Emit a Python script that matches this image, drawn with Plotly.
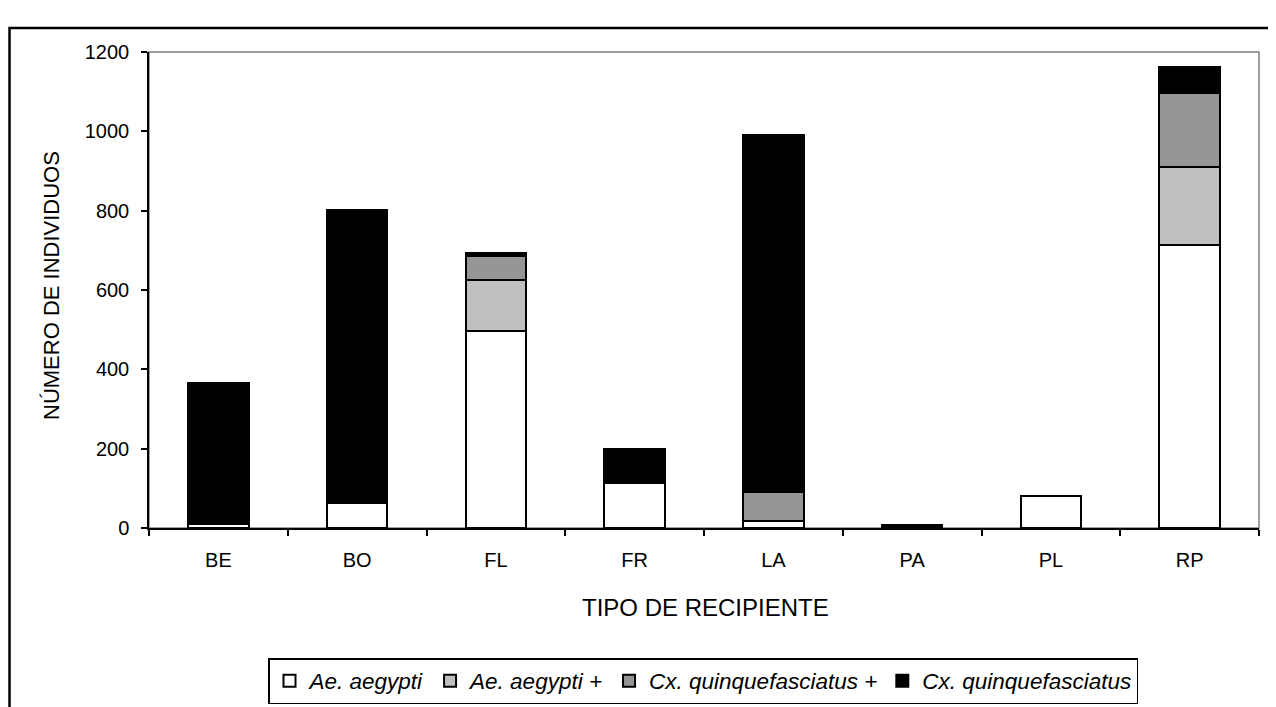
import plotly.graph_objects as go

categories = ["BE", "BO", "FL", "FR", "LA", "PA", "PL", "RP"]
ae_aegypti = [10, 64, 497, 113, 18, 0, 81, 713]
ae_aegypti_plus = [0, 0, 128, 4, 0, 0, 0, 196]
cx_quinq_plus = [0, 0, 61, 4, 74, 0, 0, 188]
cx_quinq = [356, 738, 8, 77, 900, 7, 0, 64]

series_names = ["Ae. aegypti", "Ae. aegypti +", "Cx. quinquefasciatus +", "Cx. quinquefasciatus"]
series_values = [ae_aegypti, ae_aegypti_plus, cx_quinq_plus, cx_quinq]
series_colors = ["#FFFFFF", "#C0C0C0", "#969696", "#000000"]

FONT = "Liberation Sans, Arial, sans-serif"

fig = go.Figure()
for name, vals, col in zip(series_names, series_values, series_colors):
    fig.add_trace(go.Bar(
        x=categories, y=vals, name=name,
        marker=dict(color=col, line=dict(color="#000000", width=2)),
        width=0.435,
    ))

# the page body adds an 8px margin; work in screen pixels and shift
OFF = 8
W, H = 1276 - OFF, 707 - OFF
PLOT_L, PLOT_R, PLOT_T, PLOT_B = 149, 1259, 52, 528  # screen px
L = PLOT_L - OFF
T = PLOT_T - OFF
R = W - (PLOT_R - OFF)
B = H - (PLOT_B - OFF)
pw = PLOT_R - PLOT_L
ph = PLOT_B - PLOT_T


def px_x(x):
    return (x - PLOT_L) / pw


def px_y(y):
    return (PLOT_B - y) / ph


fig.update_layout(
    width=W, height=H,
    barmode="stack",
    margin=dict(l=L, r=R, t=T, b=B, autoexpand=False),
    paper_bgcolor="white", plot_bgcolor="white",
    font=dict(family=FONT, size=20, color="black"),
    showlegend=True,
    legend=dict(
        orientation="h",
        x=px_x(703), xanchor="center",
        y=px_y(658), yanchor="top",
        bordercolor="black", borderwidth=1.5,
        font=dict(family=FONT, size=22.5, color="black", style="italic"),
        traceorder="normal",
        itemwidth=30,
        tracegroupgap=0,
    ),
    xaxis=dict(
        type="category",
        showline=True, linecolor="black", linewidth=1.5,
        ticks="outside", ticklen=6, tickcolor="black", tickwidth=1.5,
        tickson="boundaries",
        ticklabelstandoff=13,
        tickfont=dict(family=FONT, size=20, color="black"),
        showgrid=False, zeroline=False,
        range=[-0.5, 7.5],
    ),
    yaxis=dict(
        range=[0, 1200],
        tickvals=[0, 200, 400, 600, 800, 1000, 1200],
        showline=True, linecolor="black", linewidth=1.5,
        ticks="outside", ticklen=6, tickcolor="black", tickwidth=1.5,
        ticklabelstandoff=8,
        tickfont=dict(family=FONT, size=20, color="black"),
        showgrid=False, zeroline=False,
    ),
    annotations=[
        dict(text="NÚMERO DE INDIVIDUOS", xref="paper", yref="paper",
             x=px_x(51), y=px_y(286), textangle=-90, showarrow=False,
             font=dict(family=FONT, size=22, color="black"),
             xanchor="center", yanchor="middle"),
        dict(text="TIPO DE RECIPIENTE", xref="paper", yref="paper",
             x=px_x(705), y=px_y(607), showarrow=False,
             font=dict(family=FONT, size=24, color="black"),
             xanchor="center", yanchor="middle"),
    ],
    shapes=[
        dict(type="rect", xref="paper", yref="paper", x0=0, y0=0, x1=1, y1=1,
             line=dict(color="#808080", width=1.5), layer="below"),
        dict(type="rect", xref="paper", yref="paper",
             x0=px_x(9.5), x1=px_x(1290), y0=px_y(28), y1=px_y(720),
             line=dict(color="black", width=2.5)),
    ],
)

fig.write_html("out.html")
